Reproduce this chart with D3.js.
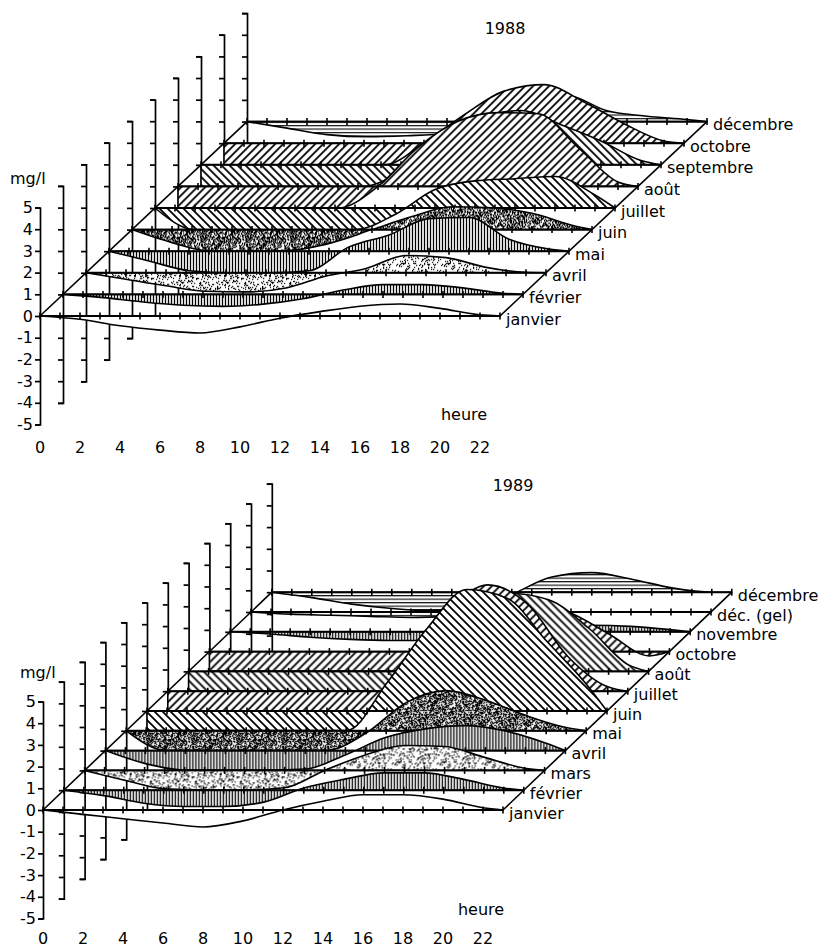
<!DOCTYPE html>
<html>
<head>
<meta charset="utf-8">
<script src="https://cdn.jsdelivr.net/npm/d3@7"></script>
<style>
body { margin: 0; background: #fff; }
svg text { font-family: "DejaVu Sans", sans-serif; font-size: 16px; fill: #000; }
</style>
</head>
<body>
<div id="chart"></div>
<script>
var hours = [0, 2, 4, 6, 8, 10, 12, 14, 16, 18, 20, 22, 23];
var hourLabels = [0, 2, 4, 6, 8, 10, 12, 14, 16, 18, 20, 22];
var yTicks = [5, 4, 3, 2, 1, 0, -1, -2, -3, -4, -5];

// 1988 (mg/l, deviation per hour)
var months1988 = ["janvier", "février", "avril", "mai", "juin", "juillet", "août", "septembre", "octobre", "décembre"];
var jan88 = [0, -0.15, -0.45, -0.65, -0.78, -0.5, -0.1, 0.2, 0.45, 0.55, 0.35, 0.05, 0];
var fev88 = [0, -0.15, -0.35, -0.5, -0.55, -0.45, -0.2, 0.2, 0.45, 0.45, 0.3, 0.05, 0];
var avr88 = [0, -0.3, -0.6, -0.85, -0.88, -0.7, -0.15, 0.2, 0.8, 0.7, 0.25, 0.02, 0];
var mai88 = [0, -0.45, -0.9, -1.0, -1.0, -0.9, 0.2, 0.75, 1.5, 1.55, 0.55, 0.1, 0];
var jun88 = [0, -0.6, -1.0, -1.0, -0.95, -0.6, 0.0, 0.6, 1.05, 1.0, 0.75, 0.2, 0];
var jul88 = [0, -1.0, -1.0, -1.0, -1.0, -1.0, -0.3, 0.85, 1.25, 1.35, 1.45, 0.6, 0];
var aou88 = [-1.0, -1.0, -1.0, -1.0, -1.0, 0.0, 1.8, 3.0, 3.4, 3.35, 1.8, 0.2, 0];
var sep88 = [-1.0, -1.0, -1.0, -1.0, -1.0, -0.3, 1.2, 2.2, 2.5, 1.85, 1.1, 0.2, 0];
var oct88 = [-1.0, -1.0, -1.0, -1.0, -1.0, 0.0, 1.3, 2.4, 2.7, 1.9, 0.9, 0.1, 0];
var dec88 = [0, -0.3, -0.6, -0.7, -0.65, -0.55, 0.2, 1.2, 1.2, 0.5, 0.25, 0.1, 0];
var series1988 = [jan88, fev88, avr88, mai88, jun88, jul88, aou88, sep88, oct88, dec88];

// 1989
var months1989 = ["janvier", "février", "mars", "avril", "mai", "juin", "juillet", "août", "octobre", "novembre", "déc. (gel)", "décembre"];
var jan89 = [0, -0.2, -0.4, -0.6, -0.78, -0.5, 0.0, 0.4, 0.7, 0.7, 0.5, 0.1, 0];
var fev89 = [0, -0.25, -0.6, -0.75, -0.75, -0.55, 0.1, 0.5, 0.8, 0.8, 0.5, 0.1, 0];
var mar89 = [0, -0.45, -0.85, -0.9, -0.9, -0.8, 0.0, 0.7, 1.15, 1.1, 0.6, 0.1, 0];
var avr89 = [0, -0.6, -0.9, -0.9, -0.9, -0.85, -0.2, 0.6, 1.0, 1.15, 0.9, 0.35, 0];
var mai89 = [0, -0.9, -0.9, -0.9, -0.9, -0.9, -0.1, 1.3, 1.85, 1.4, 0.7, 0.15, 0];
var jun89 = [-0.9, -0.9, -0.9, -0.9, -0.9, -0.9, 1.3, 3.8, 5.6, 5.2, 3.2, 1.2, 0];
var jul89 = [-0.9, -0.9, -0.9, -0.9, -0.9, -0.9, 1.6, 3.7, 4.9, 4.0, 1.6, 0.2, 0];
var aou89 = [-0.9, -0.9, -0.9, -0.9, -0.9, -0.9, 0.5, 2.5, 3.6, 3.3, 2.0, 0.3, 0];
var oct89 = [-0.9, -0.9, -0.9, -0.9, -0.9, -0.9, 0.0, 1.5, 2.2, 1.8, 0.8, -0.2, 0];
var nov89 = [0, -0.1, -0.25, -0.35, -0.4, -0.4, -0.3, -0.1, 0.1, 0.3, 0.25, 0.1, 0];
var gel89 = [0, -0.1, -0.15, -0.2, -0.25, -0.2, -0.1, 0, 0, 0, 0, 0, 0];
var dec89 = [0, -0.25, -0.55, -0.75, -0.85, -0.8, -0.1, 0.7, 0.9, 0.6, 0.2, 0.0, 0];
var series1989 = [jan89, fev89, mar89, avr89, mai89, jun89, jul89, aou89, oct89, nov89, gel89, dec89];

// fill pattern of each slice, front to back
var fills1988 = ["white", "vstripe", "dotsLight", "vstripe", "dotsDark", "back", "fwd", "back", "fwd", "hstripe"];
var fills1989 = ["white", "vstripe", "dotsLight", "vstripe", "dotsDark", "back", "fwd", "back", "fwd", "vstripe", "hstripe", "hstripe"];

// layout of both panels
var cfg88 = { x0: 40, y0: 316, hourPx: 20, unit: 21.7, dx: 23, dy: 21.6,
	title: "1988", titleX: 505, titleY: 28, heureX: 464, heureY: 414,
	hourLabelY: 447, mglX: 10, mglY: 184 };
var cfg89 = { x0: 43, y0: 810, hourPx: 20, unit: 21.7, dx: 20.8, dy: 19.8,
	title: "1989", titleX: 513, titleY: 485, heureX: 481, heureY: 909,
	hourLabelY: 938, mglX: 20, mglY: 678 };

var svg = d3.select("#chart").append("svg")
	.attr("width", 825)
	.attr("height", 947);
var defs = svg.append("defs");

function hatch(id, d, w, h, sw) {
	var p = defs.append("pattern").attr("id", id)
		.attr("patternUnits", "userSpaceOnUse")
		.attr("width", w).attr("height", h);
	p.append("rect").attr("width", w).attr("height", h).attr("fill", "#fff");
	p.append("path").attr("d", d).attr("stroke", "#000")
		.attr("stroke-width", sw).attr("fill", "none");
}
hatch("back", "M-2,6L2,10M0,0L8,8M6,-2L10,2", 8, 8, 1.8);
hatch("fwd", "M-2,2L2,-2M0,8L8,0M6,10L10,6", 8, 8, 1.8);
hatch("vstripe", "M1.5,0V4", 3, 4, 1.3);
hatch("hstripe", "M0,1.5H4", 4, 3.5, 1.1);

// grain texture for the stippled fills
function stipple(id, density) {
	var size = 45;
	var p = defs.append("pattern").attr("id", id)
		.attr("patternUnits", "userSpaceOnUse")
		.attr("width", size).attr("height", size);
	p.append("rect").attr("width", size).attr("height", size).attr("fill", "#fff");
	var cells = d3.range(size * size).filter(function(i) {
		var h = Math.imul(i ^ 0x5bd1e995, 0x27d4eb2d);
		h ^= h >>> 15;
		h = Math.imul(h, 0x85ebca6b);
		h ^= h >>> 13;
		h = Math.imul(h, 0xc2b2ae35);
		h ^= h >>> 16;
		return (h >>> 0) / 4294967296 < density;
	});
	p.selectAll("rect.g").data(cells).enter().append("rect")
		.attr("class", "g")
		.attr("x", function(i) { return i % size; })
		.attr("y", function(i) { return Math.floor(i / size); })
		.attr("width", 1.2).attr("height", 1.2)
		.attr("fill", "#000");
}
stipple("dotsDark", 0.5);
stipple("dotsLight", 0.17);

function drawPanel(cfg, months, series, fills) {
	var n = months.length;
	var g = svg.append("g");
	var x = d3.scaleLinear().domain([0, 23]).range([cfg.x0, cfg.x0 + 23 * cfg.hourPx]);
	var y = d3.scaleLinear().domain([-5, 5]).range([cfg.y0 + 5 * cfg.unit, cfg.y0 - 5 * cfg.unit]);
	var depthX = d3.scaleLinear().domain([0, 1]).range([0, cfg.dx]);
	var depthY = d3.scaleLinear().domain([0, 1]).range([0, cfg.dy]);
	var order = d3.range(n - 1, -1, -1);

	// one value axis per slice
	order.forEach(function(k) {
		var ax = g.append("g")
			.attr("transform", "translate(" + (x(0) + depthX(k)) + "," + (-depthY(k)) + ")")
			.call(d3.axisLeft(y).tickValues(yTicks).tickSize(5).tickSizeOuter(5).tickPadding(2)
				.tickFormat(k === 0 ? function(d) { return String(d); } : ""));
		ax.attr("font-family", null).attr("font-size", null);
		ax.selectAll("path, line").attr("stroke", "#000").attr("stroke-width", 1.7);
		ax.selectAll("text").attr("fill", "#000");
	});

	var area = d3.area()
		.x(function(d, i) { return x(hours[i]); })
		.y0(y(0))
		.y1(function(d) { return y(d); })
		.curve(d3.curveMonotoneX);

	// slices, back to front
	order.forEach(function(k) {
		var s = g.append("g")
			.attr("transform", "translate(" + depthX(k) + "," + (-depthY(k)) + ")");
		s.append("path")
			.attr("d", area(series[k]))
			.attr("fill", fills[k] === "white" ? "#fff" : "url(#" + fills[k] + ")")
			.attr("stroke", "#000")
			.attr("stroke-width", 1.6)
			.attr("stroke-linejoin", "round");
		s.append("line")
			.attr("x1", x(0)).attr("x2", x(23))
			.attr("y1", y(0)).attr("y2", y(0))
			.attr("stroke", "#000").attr("stroke-width", 1.9);
		s.selectAll("line.tk").data(d3.range(0, 24)).enter().append("line")
			.attr("class", "tk")
			.attr("x1", x).attr("x2", x)
			.attr("y1", y(0) - 3.5).attr("y2", y(0) + 3.5)
			.attr("stroke", "#000").attr("stroke-width", 1.6);
		s.append("text")
			.attr("x", x(23) + 6)
			.attr("y", y(0) + 3)
			.attr("dominant-baseline", "central")
			.text(months[k]);
	});

	// depth edges joining the slice ends
	[0, 23].forEach(function(h) {
		g.append("line")
			.attr("x1", x(h)).attr("y1", y(0))
			.attr("x2", x(h) + depthX(n - 1)).attr("y2", y(0) - depthY(n - 1))
			.attr("stroke", "#000").attr("stroke-width", 1.6);
	});

	g.selectAll("text.hl").data(hourLabels).enter().append("text")
		.attr("class", "hl")
		.attr("x", x)
		.attr("y", cfg.hourLabelY)
		.attr("text-anchor", "middle")
		.attr("dominant-baseline", "central")
		.text(function(d) { return d; });

	g.append("text").attr("x", cfg.mglX).attr("y", cfg.mglY).text("mg/l");
	g.append("text").attr("x", cfg.heureX).attr("y", cfg.heureY)
		.attr("text-anchor", "middle").attr("dominant-baseline", "central").text("heure");
	g.append("text").attr("x", cfg.titleX).attr("y", cfg.titleY)
		.attr("text-anchor", "middle").attr("dominant-baseline", "central").text(cfg.title);
}

drawPanel(cfg88, months1988, series1988, fills1988);
drawPanel(cfg89, months1989, series1989, fills1989);
</script>
</body>
</html>
